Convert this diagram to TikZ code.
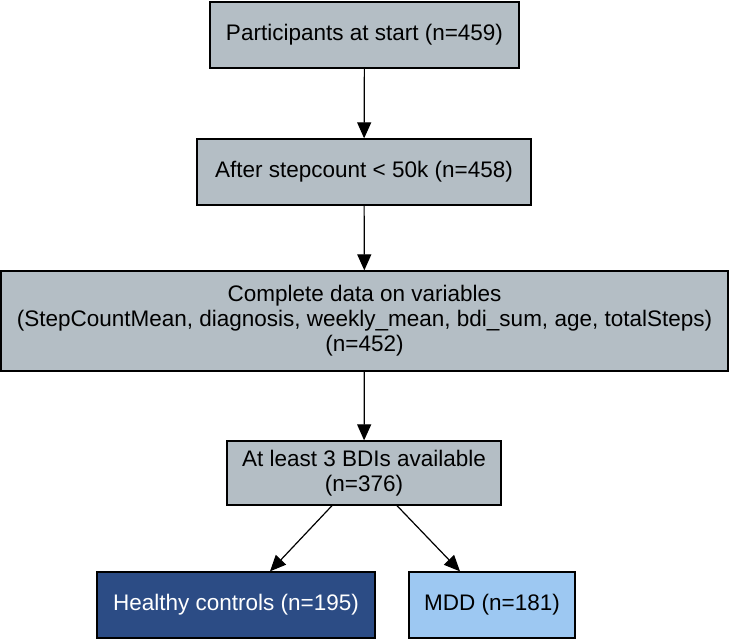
\documentclass[tikz,border=0pt]{standalone}
\usepackage{fontspec}
\setmainfont{Liberation Sans}
\usetikzlibrary{arrows.meta}
\definecolor{boxgray}{HTML}{B4BEC5}
\definecolor{darkblue}{HTML}{2C4C85}
\definecolor{lightblue}{HTML}{9DC8F2}
\begin{document}
\begin{tikzpicture}[x=1pt,y=-1pt,
  box/.style={draw=black, line width=1.3pt, fill=boxgray, align=center,
    font=\fontsize{22.5}{25}\selectfont, inner sep=0pt},
  arr/.style={line width=1.2pt, -{Triangle[length=16pt,width=14pt]}}]
\useasboundingbox (0,0) rectangle (729,641);
\node[box, minimum width=309pt, minimum height=66pt] (a) at (364.5,35) {Participants at start (n=459)};
\node[box, minimum width=334pt, minimum height=66pt] (b) at (364,172) {After stepcount < 50k (n=458)};
\node[box, minimum width=727pt, minimum height=100pt] (c) at (364.5,321) {Complete data on variables\\(StepCountMean, diagnosis, weekly\_mean, bdi\_sum, age, totalSteps)\\(n=452)};
\node[box, minimum width=274pt, minimum height=64pt] (d) at (364,473) {At least 3 BDIs available\\(n=376)};
\node[box, fill=darkblue, text=white, minimum width=278pt, minimum height=66pt] (e) at (236,605) {Healthy controls (n=195)};
\node[box, fill=lightblue, minimum width=166pt, minimum height=66pt] (f) at (492,605) {MDD (n=181)};
\draw[arr] (a) -- (b);
\draw[arr] (b) -- (c);
\draw[arr] (c) -- (d);
\draw[arr] (d.south -| 332,0) -- (e.north -| 270,0);
\draw[arr] (d.south -| 397,0) -- (f.north -| 460,0);
\end{tikzpicture}
\end{document}
